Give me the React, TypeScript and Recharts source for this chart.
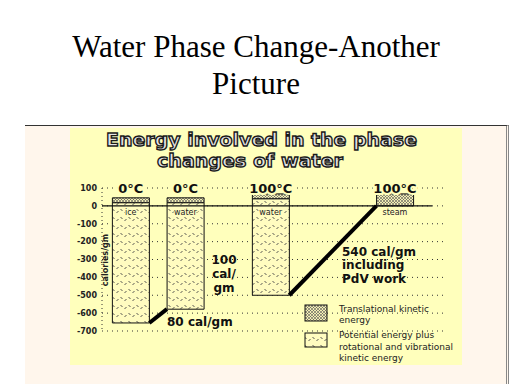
import React from 'react';
import {
  ComposedChart,
  Bar,
  XAxis,
  YAxis,
  CartesianGrid,
  ReferenceLine,
  ReferenceDot,
} from 'recharts';

// phases in the order they are drawn, left to right
const phases = ['ice', 'water', 'water', 'steam'];
const temps = ['0°C', '0°C', '100°C', '100°C'];
// position of each column along the (hidden) x axis
const positions = [1.55, 4.5, 9.1, 15.8];
// calories/gm
const topValues = [45, 45, 67, 67];
const keBottomValues = [18, 18, 40, 0];
const bottomValues = [-655, -578, -500, 0];
const yTicks = [100, 0, -100, -200, -300, -400, -500, -600, -700];

const HALF = 1; // half a column, in x units
const PANEL = '#ffffbc';
const SANS = '"DejaVu Sans", sans-serif';

const data = phases.map((name, i) => ({
  pos: positions[i],
  name,
  temp: temps[i],
  base: bottomValues[i],
  pe: keBottomValues[i] - bottomValues[i],
  ke: topValues[i] - keBottomValues[i],
}));

const connectors = [
  [0, 1],
  [2, 3],
];

function Patterns() {
  return (
    <defs>
      <pattern id="pePat" width="8" height="8" patternUnits="userSpaceOnUse">
        <rect width="8" height="8" fill="#fffcc0" />
        <path d="M0.5 1 L2.5 3 M4.5 5 L6.5 3" stroke="#444" strokeWidth="0.9" fill="none" />
      </pattern>
      <pattern id="kePat" width="3" height="3" patternUnits="userSpaceOnUse">
        <rect width="3" height="3" fill="#f2eeb4" />
        <path d="M0 0 L3 3 M3 0 L0 3" stroke="#555" strokeWidth="0.6" fill="none" />
      </pattern>
    </defs>
  );
}

export default function App() {
  return (
    <div style={{ position: 'absolute', left: 0, top: 0, width: 512, height: 384, background: '#fff', overflow: 'hidden' }}>
      <div
        style={{
          position: 'absolute', left: 25, top: 125, width: 481, height: 259,
          background: '#fff6ec', borderTop: '1px solid #333', borderRight: '3px double #888',
        }}
      />
      <div style={{ position: 'absolute', left: 70, top: 128, width: 392, height: 237, background: PANEL }} />

      <svg width={0} height={0} style={{ position: 'absolute' }}>
        <Patterns />
      </svg>

      <div style={{ position: 'absolute', left: 0, top: 0 }}>
        <ComposedChart
          width={512}
          height={384}
          data={data}
          margin={{ top: 188, right: 67, bottom: 53, left: 62 }}
        >
          <CartesianGrid vertical={false} stroke="#333" strokeDasharray="1 4" />
          <XAxis dataKey="pos" type="number" domain={[0, 18.5]} hide />
          <YAxis
            type="number"
            domain={[-700, 100]}
            ticks={yTicks}
            interval={0}
            width={40}
            tickSize={0}
            tickMargin={5}
            tickLine={false}
            axisLine={{ stroke: '#333', strokeDasharray: '1 3' }}
            tick={{ fontSize: 8, fontWeight: 'bold', fill: '#222', fontFamily: SANS }}
          />
          <ReferenceLine
            segment={[
              { x: 0, y: 0 },
              { x: positions[3] + 2 * HALF, y: 0 },
            ]}
            stroke="#111"
            strokeWidth={1.2}
          />
          <Bar dataKey="base" stackId="s" barSize={37} fill="none" stroke="none" isAnimationActive={false} />
          <Bar dataKey="pe" stackId="s" barSize={37} fill="url(#pePat)" stroke="#111" strokeWidth={1} isAnimationActive={false} />
          <Bar dataKey="ke" stackId="s" barSize={37} fill="url(#kePat)" stroke="#111" strokeWidth={1} isAnimationActive={false} />
          {connectors.map(([a, b]) => (
            <ReferenceLine
              key={`c${a}`}
              segment={[
                { x: positions[a] + HALF, y: bottomValues[a] },
                { x: positions[b] - HALF, y: bottomValues[b] },
              ]}
              stroke="#000"
              strokeWidth={4}
            />
          ))}
          {data.map((d, i) => (
            <ReferenceDot
              key={`t${i}`}
              x={d.pos}
              y={100}
              r={0}
              shape={(p: any) => (
                <text
                  x={p.cx}
                  y={p.cy + 5}
                  textAnchor="middle"
                  fontSize={13}
                  fontWeight="bold"
                  fontFamily={SANS}
                  fill="#111"
                  stroke={PANEL}
                  strokeWidth={4}
                  style={{ paintOrder: 'stroke' }}
                >
                  {d.temp}
                </text>
              )}
            />
          ))}
          {data.map((d, i) => (
            <ReferenceDot
              key={`n${i}`}
              x={d.pos}
              y={-35}
              r={0}
              shape={(p: any) => (
                <text
                  x={p.cx}
                  y={p.cy + 3}
                  textAnchor="middle"
                  fontSize={8}
                  fontFamily={SANS}
                  fill="#222"
                  stroke="#fffcc0"
                  strokeWidth={2}
                  style={{ paintOrder: 'stroke' }}
                >
                  {d.name}
                </text>
              )}
            />
          ))}
        </ComposedChart>
      </div>

      <svg width={512} height={384} style={{ position: 'absolute', left: 0, top: 0, pointerEvents: 'none' }}>
        <text x={256} y={57} textAnchor="middle" fontSize={31} fontFamily='"Liberation Serif", "Times New Roman", serif' fill="#000">
          Water Phase Change-Another
        </text>
        <text x={256} y={94} textAnchor="middle" fontSize={31} fontFamily='"Liberation Serif", "Times New Roman", serif' fill="#000">
          Picture
        </text>

        <g fontFamily={SANS} fontWeight="bold" fontSize={18} fill="#e4e4e4" stroke="#1a1a1a" strokeWidth={1.3}>
          <text x={106} y={146} textLength={311} lengthAdjust="spacingAndGlyphs">Energy involved in the phase</text>
          <text x={157} y={167} textLength={186} lengthAdjust="spacingAndGlyphs">changes of water</text>
        </g>

        <text
          x={108}
          y={260}
          transform="rotate(-90 108 260)"
          textAnchor="middle"
          fontSize={8}
          fontWeight="bold"
          fontFamily={SANS}
          fill="#222"
        >
          calories/gm
        </text>

        <g fontFamily={SANS} fontWeight="bold" fontSize={12} fill="#111">
          <text x={224} y={264} textAnchor="middle">100</text>
          <text x={224} y={278} textAnchor="middle">cal/</text>
          <text x={224} y={292} textAnchor="middle">gm</text>
          <text x={167} y={326}>80 cal/gm</text>
          <text x={342} y={256}>540 cal/gm</text>
          <text x={342} y={269}>including</text>
          <text x={342} y={283}>PdV work</text>
        </g>

        <rect x={305} y={305} width={22} height={16} fill="url(#kePat)" stroke="#111" />
        <rect x={305} y={333} width={22} height={14} fill="url(#pePat)" stroke="#111" />
        <g fontFamily={SANS} fontSize={9} fill="#222">
          <text x={339} y={312}>Translational kinetic</text>
          <text x={339} y={323}>energy</text>
          <text x={339} y={338}>Potential energy plus</text>
          <text x={339} y={350}>rotational and vibrational</text>
          <text x={339} y={361}>kinetic energy</text>
        </g>
      </svg>
    </div>
  );
}
